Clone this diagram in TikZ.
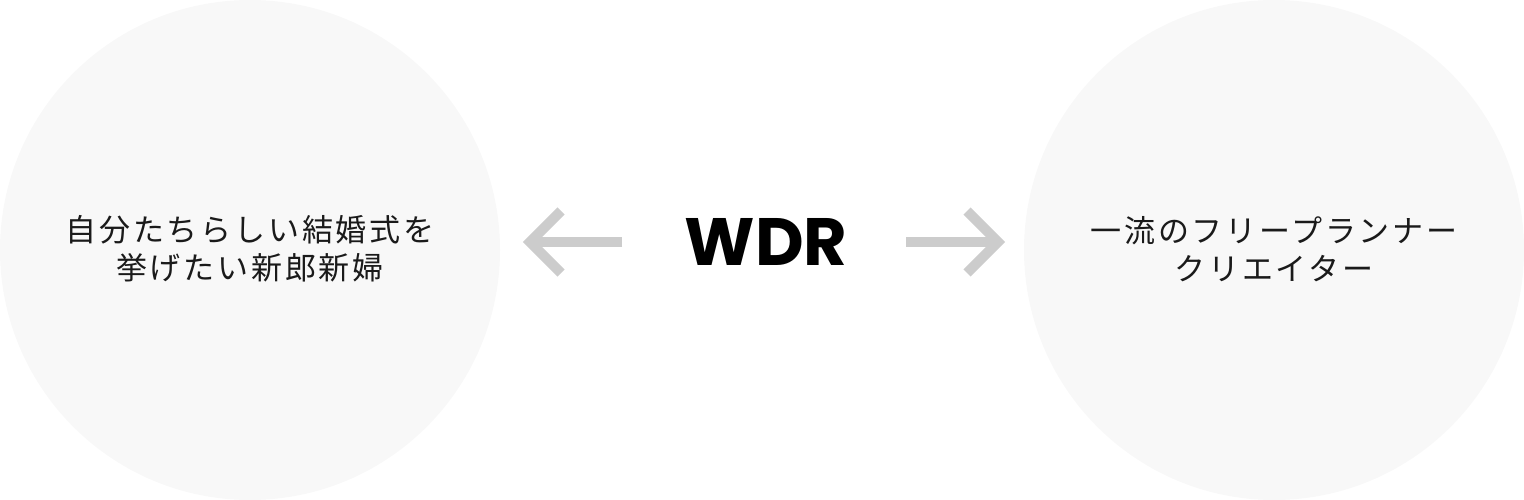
\documentclass[tikz,border=0pt]{standalone}
\usepackage{fontspec}
\newfontfamily\jp[LetterSpace=9]{Noto Sans CJK JP}
\newfontfamily\wdrfont{Poppins}
\definecolor{circfill}{HTML}{F8F8F8}
\definecolor{arrgray}{HTML}{CCCCCC}
\definecolor{txt}{HTML}{1A1A1A}
\begin{document}
\begin{tikzpicture}[x=1pt,y=-1pt,
  circ/.style={circle,fill=circfill,minimum size=500pt,inner sep=0pt},
  jptext/.style={align=center,text=txt,font=\jp\fontsize{31}{38}\selectfont},
  arrline/.style={draw=arrgray,line width=10pt,miter limit=10},
  title/.style={font=\wdrfont\bfseries\fontsize{67}{80}\selectfont,text=black,inner sep=0pt}]
\useasboundingbox (0,0) rectangle (1524,500);
\node[circ] (lc) at (250,250) {};
\node[circ] (rc) at (1274,250) {};
\node[jptext] (lt) at (250,249) {自分たちらしい結婚式を\\挙げたい新郎新婦};
\node[jptext] (rt) at (1274,249) {一流のフリープランナー\\クリエイター};
\node[title] (wdr) at (766,242) {WDR};
% left arrow
\coordinate (la0) at (622,242);
\coordinate (la1) at (530,242);
\coordinate (la2) at (561,211);
\coordinate (la3) at (561,273);
\draw[arrline] (la0) -- (la1);
\draw[arrline] (la2) -- (la1) -- (la3);
% right arrow
\coordinate (ra0) at (906,242);
\coordinate (ra1) at (998,242);
\coordinate (ra2) at (967,211);
\coordinate (ra3) at (967,273);
\draw[arrline] (ra0) -- (ra1);
\draw[arrline] (ra2) -- (ra1) -- (ra3);
\end{tikzpicture}
\end{document}
